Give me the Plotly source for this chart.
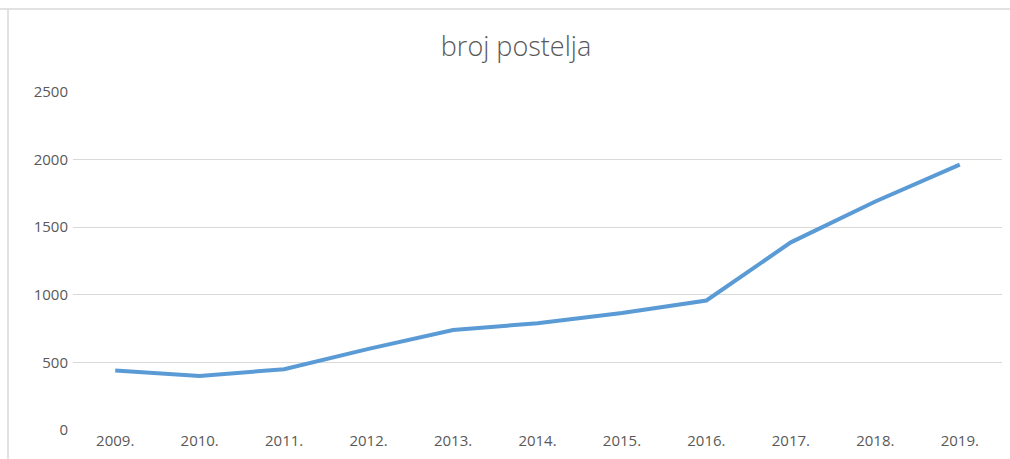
import plotly.graph_objects as go

years = ["2009.", "2010.", "2011.", "2012.", "2013.", "2014.", "2015.", "2016.", "2017.", "2018.", "2019."]
beds = [440, 400, 450, 600, 740, 790, 865, 958, 1388, 1690, 1963]
y_ticks = [0, 500, 1000, 1500, 2000, 2500]

GRAY = "#595959"
FONT = "Open Sans"

fig = go.Figure()
fig.add_trace(go.Scatter(
    x=years, y=beds, mode="lines",
    line=dict(color="#5B9BD5", width=4, shape="linear"),
    hoverinfo="skip", showlegend=False,
))

fig.update_layout(
    width=1010, height=459,
    margin=dict(l=73, r=8, t=92, b=29),
    paper_bgcolor="white", plot_bgcolor="white",
    title=dict(text="broj postelja", x=516/1010, xanchor="center", y=1 - 47/459, yref="container",
               yanchor="middle", font=dict(family=FONT, size=27, color=GRAY, weight=300)),
    font=dict(family=FONT, color=GRAY, size=15),
    xaxis=dict(type="category", range=[-0.5, 10.5], showgrid=False, zeroline=False,
               showline=False, ticks="", tickfont=dict(size=15, color=GRAY)),
    yaxis=dict(range=[0, 2500], tickvals=y_ticks, showgrid=True, gridcolor="#D9D9D9",
               gridwidth=1, zeroline=False, showline=False, ticks="",
               tickfont=dict(size=15, color=GRAY), ticklabelstandoff=4),
    shapes=[
        dict(type="line", xref="paper", yref="paper", x0=-73/929, x1=1 + 8/929,
             y0=1 + 83/338, y1=1 + 83/338, line=dict(color="#D9D9D9", width=1.5)),
        dict(type="line", xref="paper", yref="paper", x0=-65/929, x1=-65/929,
             y0=1 + 83/338, y1=-29/338, line=dict(color="#D9D9D9", width=1.5)),
    ],
)

fig.write_html("out.html", config={"displayModeBar": False},
               post_script="document.body.style.margin='0';")
